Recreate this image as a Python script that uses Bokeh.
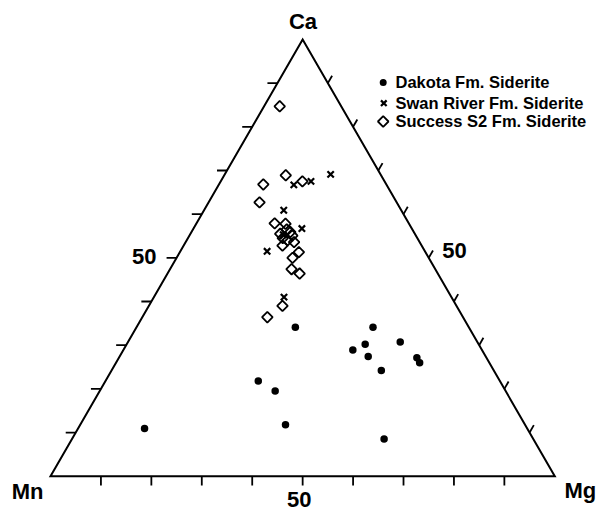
import math
from bokeh.plotting import figure
from bokeh.models import Range1d
from bokeh.core.properties import value
from bokeh.embed import file_html
from bokeh.resources import INLINE

# ---------------- data (percent Ca, Mg, Mn) ----------------
dakota_ca = [10.9, 21.8, 19.5, 11.8, 28.9, 30.2, 27.4, 24.2, 30.7, 27.1, 26.0, 8.5, 34.1, 34.1]
dakota_mg = [13.2, 30.3, 34.8, 40.7, 45.5, 47.3, 49.3, 53.5, 54.0, 59.1, 60.2, 61.9, 31.5, 46.9]
dakota_mn = [75.9, 47.9, 45.7, 47.5, 25.6, 22.5, 23.3, 22.3, 15.3, 13.8, 13.8, 29.6, 34.4, 19.0]

swan_ca = [66.7, 67.5, 69.1, 60.9, 56.7, 51.5, 41.0, 55.3]
swan_mg = [14.9, 17.9, 21.0, 15.8, 21.5, 17.2, 25.8, 18.5]
swan_mn = [18.4, 14.6, 9.9, 23.3, 21.8, 31.3, 33.2, 26.2]

success_ca = [84.7, 66.8, 68.9, 67.5, 62.7, 57.9, 57.8, 55.5, 55.9, 54.5, 55.1,
              52.8, 53.6, 51.3, 50.0, 47.4, 46.4, 39.0, 36.4, 56.5, 54.0]
success_mg = [3.1, 8.8, 12.2, 16.2, 10.1, 15.5, 17.7, 17.8, 19.6, 18.8, 20.4,
              19.6, 21.5, 23.6, 23.0, 24.1, 26.2, 26.5, 24.8, 18.6, 20.0]
success_mn = [12.2, 24.4, 18.9, 16.3, 27.2, 26.6, 24.5, 26.7, 24.5, 26.7, 24.5,
              27.6, 24.9, 25.1, 27.0, 28.5, 27.4, 34.5, 38.8, 24.9, 26.0]

tick_values = [10, 20, 30, 40, 50, 60, 70, 80, 90]
tick_label_value = 50
tick_label_text = "50"
vertex_labels = ["Mn", "Mg", "Ca"]
series_names = ["Dakota Fm. Siderite", "Swan River Fm. Siderite", "Success S2 Fm. Siderite"]

# ---------------- layout ----------------
R3 = math.sqrt(3.0)
S = 504.3          # pixels per unit side
W, H = 597, 513
X0PX = 50.0        # Mn vertex, px from left of figure
Y0PX = H - 475.7   # base line, px from bottom of figure
FONT = value("Liberation Sans")
TS = 7.5           # baseline correction for 22px text


def tern(ca, mg, mn):
    xs, ys = [], []
    for c, g, n in zip(ca, mg, mn):
        t = c + g + n
        xs.append((g + c / 2.0) / t)
        ys.append(c * R3 / 2.0 / t)
    return xs, ys


def px(X, Y):
    # picture pixel -> data
    return (X - X0PX) / S, (475.7 - Y) / S


p = figure(width=W, height=H, output_backend="svg", toolbar_location=None,
           x_range=Range1d(-X0PX / S, (W - X0PX) / S),
           y_range=Range1d(-Y0PX / S, (H - Y0PX) / S),
           x_axis_type=None, y_axis_type=None,
           min_border=0, min_border_left=0, min_border_right=0,
           min_border_top=0, min_border_bottom=0)
p.grid.visible = False
p.outline_line_color = None
p.background_fill_color = "white"
p.border_fill_color = "white"

# triangle
p.patch([0.0, 1.0, 0.5], [0.0, 0.0, R3 / 2.0], fill_alpha=0, line_color="black",
        line_width=2, line_join="miter")

# ticks
bx0, by0, bx1, by1 = [], [], [], []
for t in tick_values:
    f = t / 100.0
    bx0.append(f); by0.append(0.0); bx1.append(f); by1.append(-9.3 / S)
    bx0.append(f / 2.0); by0.append(f * R3 / 2.0)
    bx1.append(f / 2.0 - 10.0 / S); by1.append(f * R3 / 2.0)
    xr, yr = 0.5 + f / 2.0, (1 - f) * R3 / 2.0
    bx0.append(xr); by0.append(yr)
    bx1.append(xr + 0.5 * 8.5 / S); by1.append(yr + R3 / 2.0 * 8.5 / S)
p.segment(bx0, by0, bx1, by1, line_color="black", line_width=1.8)

# tick labels "50"
f = tick_label_value / 100.0
common = dict(text_font=FONT, text_font_style="bold", text_font_size="22px",
              text_color="black", text_baseline="alphabetic")
p.text(x=[f], y=[0.0], text=[tick_label_text], x_offset=-3.5, y_offset=30.5 - TS,
       text_align="center", **common)
p.text(x=[f / 2.0], y=[f * R3 / 2.0], text=[tick_label_text], x_offset=-20, y_offset=6 - TS,
       text_align="right", **common)
p.text(x=[0.5 + f / 2.0], y=[(1 - f) * R3 / 2.0], text=[tick_label_text], x_offset=13.5,
       y_offset=0 - TS, text_align="left", **common)

# vertex labels
p.text(x=[0.0], y=[0.0], text=[vertex_labels[0]], x_offset=-7, y_offset=22.6 - TS,
       text_align="right", **common)
p.text(x=[1.0], y=[0.0], text=[vertex_labels[1]], x_offset=9.7, y_offset=21.5 - TS,
       text_align="left", **common)
p.text(x=[0.5], y=[R3 / 2.0], text=[vertex_labels[2]], x_offset=0.3, y_offset=-10.7 - TS,
       text_align="center", **common)

# data
dx, dy = tern(dakota_ca, dakota_mg, dakota_mn)
sx, sy = tern(swan_ca, swan_mg, swan_mn)
ux, uy = tern(success_ca, success_mg, success_mn)

p.scatter(x=ux, y=uy, marker="square", angle=math.pi / 4, size=7.5,
          fill_alpha=0, line_color="black", line_width=1.8)
p.scatter(x=sx, y=sy, marker="x", size=9, line_color="black", line_width=2.2)
p.scatter(x=dx, y=dy, marker="circle", size=7.5, fill_color="black", line_color=None)

# legend (manual)
lx, ly1 = px(382.7, 82.0)
_, ly2 = px(383.3, 102.7)
_, ly3 = px(382.7, 121.0)
p.scatter(x=[lx], y=[ly1], marker="circle", size=7, fill_color="black", line_color=None)
p.scatter(x=[lx + 0.6 / S], y=[ly2], marker="x", size=8, line_color="black", line_width=2.2)
p.scatter(x=[lx], y=[ly3], marker="square", angle=math.pi / 4, size=7.5,
          fill_alpha=0, line_color="black", line_width=1.8)
tx, _ = px(395.0, 0)
_, ty1 = px(0, 87.3 - 5.5)
_, ty2 = px(0, 107.7 - 5.5)
_, ty3 = px(0, 126.2 - 5.5)
p.text(x=[tx, tx, tx], y=[ty1, ty2, ty3], text=series_names,
       text_align="left", text_baseline="alphabetic", text_font=FONT,
       text_font_style="bold", text_font_size="16.5px", text_color="black")

open("out.html", "w").write(file_html(p, INLINE))
